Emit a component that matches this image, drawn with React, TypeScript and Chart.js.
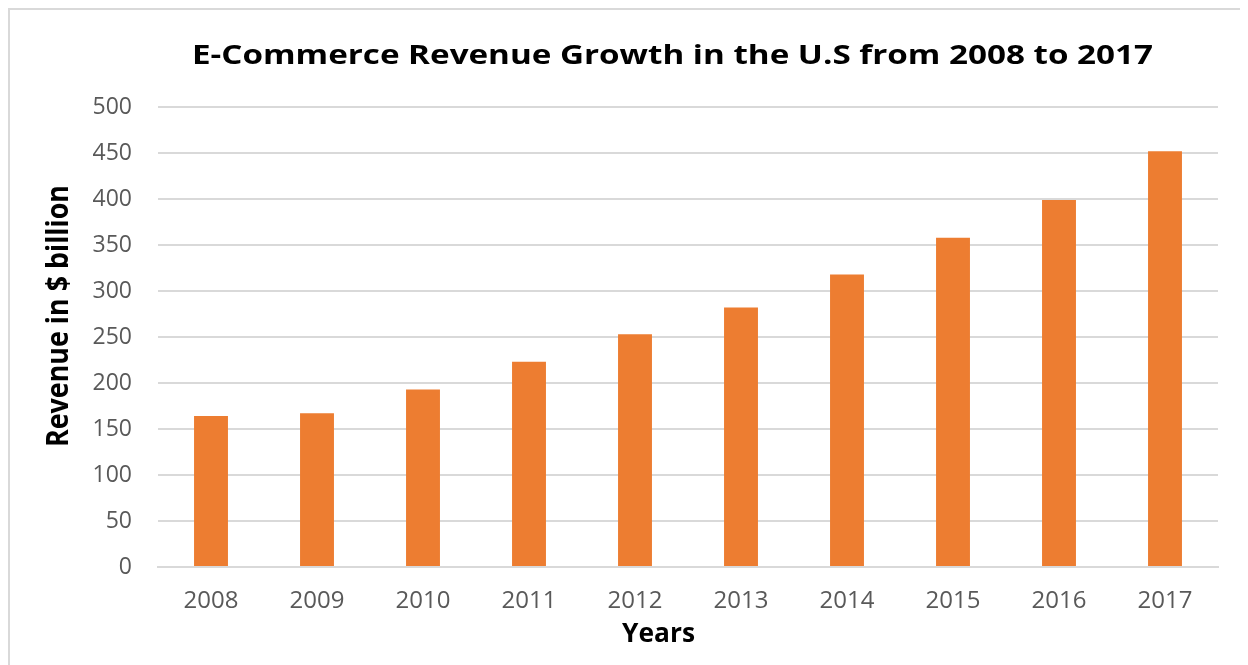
import React, { useEffect, useRef } from "react";
import { Chart, registerables } from "chart.js";

Chart.register(...registerables);

const years = ["2008", "2009", "2010", "2011", "2012", "2013", "2014", "2015", "2016", "2017"];
const revenue = [164, 167, 193, 223, 253, 282, 318, 358, 399, 452];
const yTicks = [0, 50, 100, 150, 200, 250, 300, 350, 400, 450, 500];

const titleText = "E-Commerce Revenue Growth in the U.S from 2008 to 2017";
const yTitle = "Revenue in $ billion";
const xTitle = "Years";

const FONT = "'Open Sans', 'Liberation Sans', sans-serif";

// Draws the chart title and axis titles as canvas text, stretched like the reference rendering.
const titlesPlugin = {
  id: "stretchedTitles",
  afterDraw(chart: any) {
    const ctx = chart.ctx as CanvasRenderingContext2D;
    const area = chart.chartArea;
    ctx.save();
    ctx.fillStyle = "#000000";
    ctx.textAlign = "center";
    ctx.textBaseline = "alphabetic";

    // Main title
    ctx.font = `bold 27px ${FONT}`;
    let w = ctx.measureText(titleText).width;
    ctx.save();
    ctx.translate(662.5, area.top - 43);
    ctx.scale(961 / w, 1);
    ctx.fillText(titleText, 0, 0);
    ctx.restore();

    // Y axis title (rotated)
    ctx.font = `bold 27px ${FONT}`;
    w = ctx.measureText(yTitle).width;
    ctx.save();
    ctx.translate(58, (area.top + area.bottom) / 2 - 21);
    ctx.rotate(-Math.PI / 2);
    ctx.scale(262 / w, 1.14);
    ctx.fillText(yTitle, 0, 0);
    ctx.restore();

    // X axis title
    ctx.font = `bold 27px ${FONT}`;
    w = ctx.measureText(xTitle).width;
    ctx.save();
    ctx.translate(648.5, area.bottom + 75);
    ctx.scale(73 / w, 1);
    ctx.fillText(xTitle, 0, 0);
    ctx.restore();

    ctx.restore();
  },
};

export default function App() {
  const ref = useRef<HTMLCanvasElement | null>(null);
  useEffect(() => {
    if (!ref.current) return;
    const chart = new Chart(ref.current, {
      type: "bar",
      data: {
        labels: years,
        datasets: [
          {
            label: "Revenue",
            data: revenue,
            backgroundColor: "#ED7D31",
            borderWidth: 0,
            categoryPercentage: 1,
            barPercentage: 0.32,
          },
        ],
      },
      plugins: [titlesPlugin],
      options: {
        responsive: false,
        animation: false,
        maintainAspectRatio: false,
        layout: { padding: { top: 97, left: 0, right: 24, bottom: 0 } },
        plugins: {
          legend: { display: false },
          tooltip: { enabled: false },
          title: { display: false },
        },
        scales: {
          x: {
            grid: { display: false, drawTicks: false },
            border: { display: true, color: "#d9d9d9", width: 2 },
            ticks: {
              color: "#595959",
              font: { family: FONT, size: 24 },
              padding: 20,
            },
            afterFit: (s: any) => {
              s.height = 99;
            },
          },
          y: {
            min: 0,
            max: 500,
            afterBuildTicks: (s: any) => {
              s.ticks = yTicks.map((v) => ({ value: v }));
            },
            grid: { color: "#d9d9d9", lineWidth: 2, drawTicks: false },
            border: { display: false },
            ticks: {
              color: "#595959",
              font: { family: FONT, size: 23 },
              padding: 26,
            },
            afterFit: (s: any) => {
              s.width = 148;
            },
          },
        },
      },
    });
    return () => chart.destroy();
  }, []);
  return (
    <div
      style={{
        width: 1236,
        height: 660,
        border: "2px solid #d9d9d9",
        boxSizing: "border-box",
        background: "#ffffff",
      }}
    >
      <canvas ref={ref} width={1232} height={656} style={{ display: "block" }} />
    </div>
  );
}
